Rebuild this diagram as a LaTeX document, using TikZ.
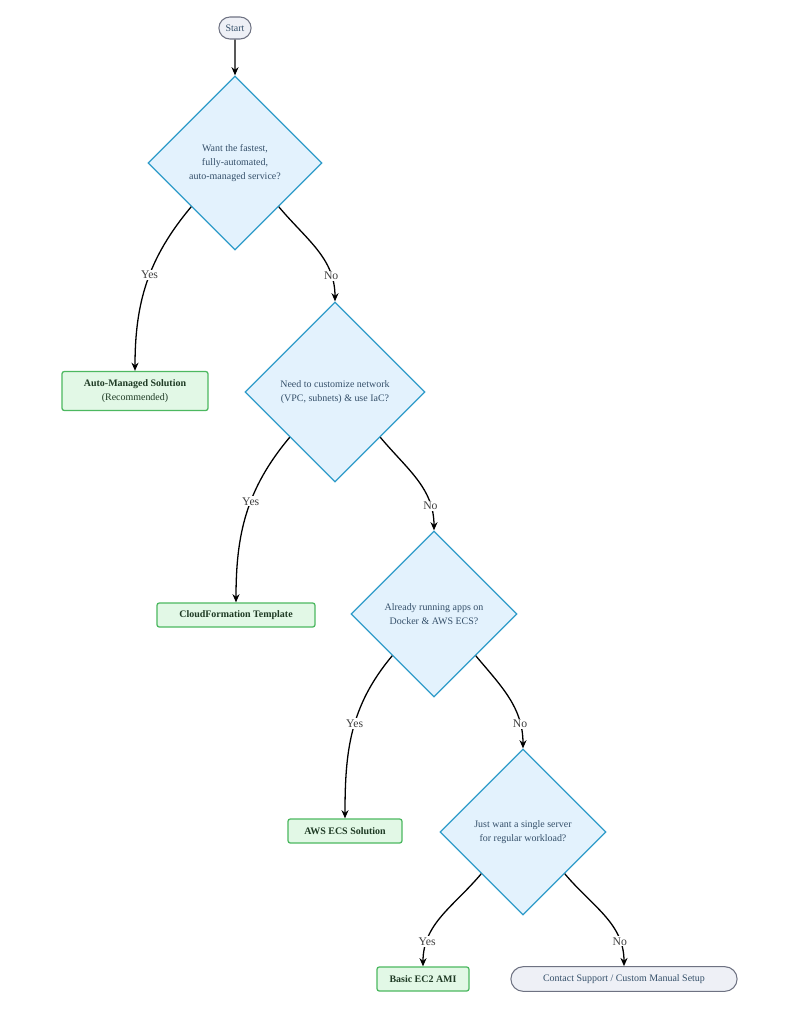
\documentclass[tikz,border=0pt]{standalone}
\usepackage{fontspec}
\setmainfont{Liberation Serif}
\usetikzlibrary{shapes.geometric,shapes.misc,arrows.meta}
\definecolor{dfill}{HTML}{E3F2FD}
\definecolor{dline}{HTML}{2E9BC9}
\definecolor{gfill}{HTML}{E2F8E6}
\definecolor{gline}{HTML}{4CB860}
\definecolor{gtext}{HTML}{1E3A24}
\definecolor{sfill}{HTML}{EEF0F6}
\definecolor{sline}{HTML}{6E7282}
\definecolor{dtext}{HTML}{35506A}
\begin{document}
\begin{tikzpicture}[x=0.03cm,y=-0.03cm,
  dec/.style={diamond,draw=dline,fill=dfill,line width=1.1pt,inner sep=0pt,aspect=1,align=center,text=dtext,font=\fontsize{8.5}{12.3}\selectfont},
  res/.style={rectangle,rounded corners=2pt,draw=gline,fill=gfill,line width=1.1pt,align=center,text=gtext,font=\fontsize{8.5}{12}\selectfont,minimum height=0.72cm},
  term/.style={rounded rectangle,draw=sline,fill=sfill,line width=0.9pt,text=dtext,font=\fontsize{8.5}{11}\selectfont,minimum height=0.66cm},
  arr/.style={-{Stealth[length=7pt,width=6pt]},line width=1.1pt,black},
  lab/.style={font=\fontsize{10}{12}\selectfont,text=black!75,fill=white,inner sep=1pt}]
\useasboundingbox (0,0) rectangle (803,1024);
\node[term,minimum width=1.2cm] (start) at (235,28) {Start};
\node[dec,minimum width=5.22cm,minimum height=5.22cm] (d1) at (235,163) {Want the fastest,\\fully-automated,\\auto-managed service?};
\node[dec,minimum width=5.4cm,minimum height=5.4cm] (d2) at (335,392) {Need to customize network\\(VPC, subnets) \& use IaC?};
\node[dec,minimum width=4.98cm,minimum height=4.98cm] (d3) at (434,614) {Already running apps on\\Docker \& AWS ECS?};
\node[dec,minimum width=4.98cm,minimum height=4.98cm] (d4) at (523,832) {Just want a single server\\for regular workload?};
\node[res,minimum width=4.38cm,minimum height=1.17cm] (r1) at (135,391) {\textbf{Auto-Managed Solution}\\(Recommended)};
\node[res,minimum width=4.74cm] (r2) at (236,615) {\textbf{CloudFormation Template}};
\node[res,minimum width=3.42cm] (r3) at (345,831) {\textbf{AWS ECS Solution}};
\node[res,minimum width=2.76cm] (r4) at (423,979) {\textbf{Basic EC2 AMI}};
\node[term,minimum width=7.02cm,minimum height=0.74cm] (r5) at (624,979) {Contact Support / Custom Manual Setup};
\draw[arr] (start) -- (d1.north);
\draw[arr] (d1.south west) to[out=-130,in=90] node[lab,pos=0.45]{Yes} (r1.north);
\draw[arr] (d1.south east) to[out=-50,in=90] node[lab,pos=0.78]{No} (d2.north);
\draw[arr] (d2.south west) to[out=-130,in=90] node[lab,pos=0.42]{Yes} (r2.north);
\draw[arr] (d2.south east) to[out=-50,in=90] node[lab,pos=0.78]{No} (d3.north);
\draw[arr] (d3.south west) to[out=-130,in=90] node[lab,pos=0.45]{Yes} (r3.north);
\draw[arr] (d3.south east) to[out=-50,in=90] node[lab,pos=0.78]{No} (d4.north);
\draw[arr] (d4.south west) to[out=-130,in=90] node[lab,pos=0.78]{Yes} (r4.north);
\draw[arr] (d4.south east) to[out=-50,in=90] node[lab,pos=0.78]{No} (r5.north);
\end{tikzpicture}
\end{document}
